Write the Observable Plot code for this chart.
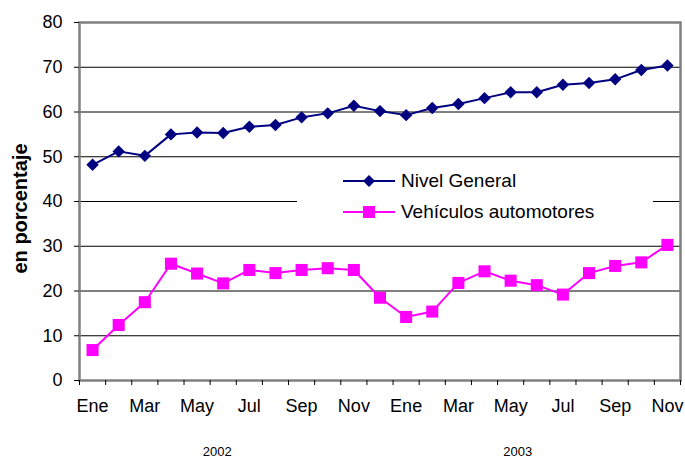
<!DOCTYPE html>
<html>
<head>
<meta charset="utf-8">
<script src="https://cdn.jsdelivr.net/npm/d3@7"></script>
<script src="https://cdn.jsdelivr.net/npm/@observablehq/plot@0.6"></script>
<style>
  html, body { margin: 0; padding: 0; background: #fff; }
  #wrap { position: relative; width: 685px; height: 463px; font-family: "Liberation Sans", Arial, sans-serif; }
  #legend { position: absolute; left: 297px; top: 166px; width: 356px; height: 64px; background: #fff; }
  .item { position: absolute; left: 46px; height: 24px; display: flex; align-items: center; font-size: 19px; color: #000; }
  .item svg { margin-right: 6px; }
</style>
</head>
<body>
<div id="wrap"></div>
<script>
const months = ["Ene","Feb","Mar","Abr","May","Jun","Jul","Ago","Sep","Oct","Nov","Dic",
                "Ene","Feb","Mar","Abr","May","Jun","Jul","Ago","Sep","Oct","Nov"];
const years = [2002,2002,2002,2002,2002,2002,2002,2002,2002,2002,2002,2002,
               2003,2003,2003,2003,2003,2003,2003,2003,2003,2003,2003];
const nivelGeneral = [48.2,51.2,50.2,55.0,55.4,55.3,56.7,57.1,58.8,59.7,61.4,60.2,
                      59.3,60.9,61.8,63.1,64.4,64.4,66.1,66.5,67.3,69.4,70.4];
const vehiculos = [6.8,12.4,17.5,26.1,23.9,21.7,24.7,24.0,24.7,25.1,24.7,18.5,
                   14.2,15.4,21.8,24.4,22.3,21.3,19.2,24.0,25.6,26.4,30.3];
const seriesNames = ["Nivel General","Vehículos automotores"];
const yAxisLabel = "en porcentaje";
const yTicks = [0,10,20,30,40,50,60,70,80];

const idx = d3.range(months.length);
const dataNG = idx.map(i => ({i, v: nivelGeneral[i]}));
const dataVA = idx.map(i => ({i, v: vehiculos[i]}));
const labelTicks = idx.filter(i => i % 2 === 0);
const boundaries = idx.map(i => i - 0.5).concat([idx.length - 0.5]);
const yearGroups = Array.from(d3.group(idx, i => years[i]), ([year, is]) => ({year, c: d3.mean(is)}));

const chart = Plot.plot({
  width: 685,
  height: 463,
  marginLeft: 79,
  marginRight: 5,
  marginTop: 22,
  marginBottom: 83,
  style: {fontFamily: "'Liberation Sans', Arial, sans-serif", color: "#000", background: "#fff"},
  x: {type: "linear", domain: [-0.5, months.length - 0.5], axis: null},
  y: {domain: [0, 80], axis: null},
  marks: [
    Plot.ruleY(yTicks.slice(1, -1), {stroke: "#000", strokeWidth: 1}),
    Plot.frame({stroke: "#808080", strokeWidth: 2.5}),
    Plot.axisY(yTicks, {tickSize: 5, tickPadding: 12, fontSize: 18, stroke: "#000", label: null}),
    Plot.axisX(boundaries, {tickSize: 5, tickFormat: () => "", stroke: "#000", label: null}),
    Plot.axisX(labelTicks, {tickSize: 0, tickPadding: 19, tickFormat: i => months[i], fontSize: 18, label: null}),
    Plot.text(yearGroups, {x: "c", text: d => String(d.year), frameAnchor: "bottom", dy: 75, dx: -19, fontSize: 13}),
    Plot.text([yAxisLabel], {frameAnchor: "left", textAnchor: "middle", dx: -59, dy: 7, rotate: -90, fontSize: 20, fontWeight: "bold", text: d => d}),
    Plot.line(dataNG, {x: "i", y: "v", stroke: "#000080", strokeWidth: 2}),
    Plot.dot(dataNG, {x: "i", y: "v", symbol: "diamond2", r: 5.6, fill: "#000080", stroke: "none"}),
    Plot.line(dataVA, {x: "i", y: "v", stroke: "#FF00FF", strokeWidth: 2}),
    Plot.dot(dataVA, {x: "i", y: "v", symbol: "square", r: 6.8, fill: "#FF00FF", stroke: "none"})
  ]
});
const wrap = document.getElementById("wrap");
wrap.appendChild(chart);

const legend = document.createElement("div");
legend.id = "legend";
legend.innerHTML = `
  <div class="item" style="top:3px">
    <svg width="52" height="16"><line x1="0" y1="8" x2="52" y2="8" stroke="#000080" stroke-width="2"/>
      <path d="M26,2 L32,8 L26,14 L20,8 Z" fill="#000080"/></svg>${seriesNames[0]}</div>
  <div class="item" style="top:34px">
    <svg width="52" height="16"><line x1="0" y1="8" x2="52" y2="8" stroke="#FF00FF" stroke-width="2"/>
      <rect x="20" y="2" width="12" height="12" fill="#FF00FF"/></svg>${seriesNames[1]}</div>`;
wrap.appendChild(legend);
</script>
</body>
</html>
